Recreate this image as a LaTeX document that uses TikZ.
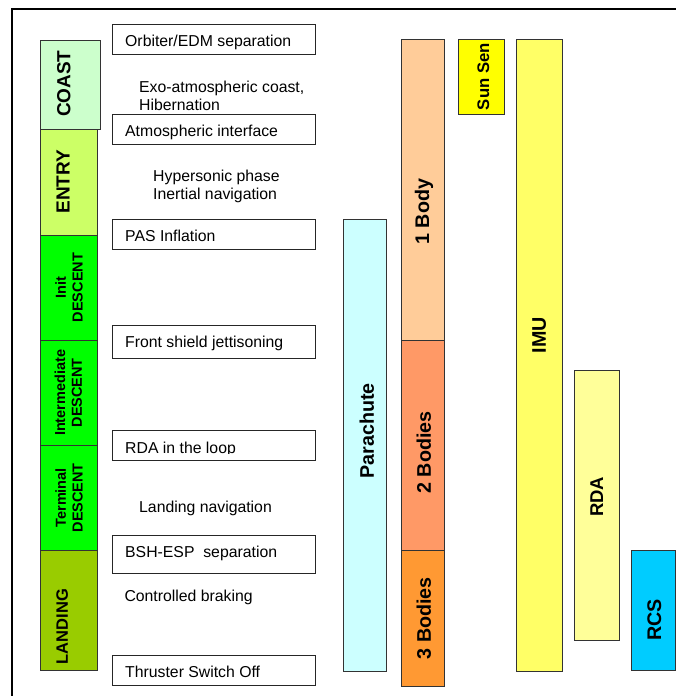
\documentclass[tikz,border=0pt]{standalone}
\usepackage{fontspec}
\setmainfont{Liberation Sans}
\definecolor{coastc}{HTML}{CCFFCC}
\definecolor{entryc}{HTML}{CCFF66}
\definecolor{descentc}{HTML}{00FF00}
\definecolor{landingc}{HTML}{99CC00}
\definecolor{parac}{HTML}{CCFFFF}
\definecolor{onebodyc}{HTML}{FFCC99}
\definecolor{twobodyc}{HTML}{FF9966}
\definecolor{threebodyc}{HTML}{FF9933}
\definecolor{sunsenc}{HTML}{FFFF00}
\definecolor{imuc}{HTML}{FFFF66}
\definecolor{rdac}{HTML}{FFFF99}
\definecolor{rcsc}{HTML}{00CCFF}
\definecolor{edge}{HTML}{333333}
\begin{document}
\begin{tikzpicture}[x=1pt,y=-1pt,
  rect/.style={draw=edge, line width=0.9pt, inner sep=0pt, outer sep=0pt, anchor=north west},
  evbox/.style={rect, draw=black!85, fill=white, minimum width=202.7pt},
  evtext/.style={anchor=base west, inner sep=0pt, font=\fontsize{15.8}{18}\selectfont},
  phtext/.style={rotate=90, inner sep=0pt, align=center, font=\bfseries\fontsize{19}{21}\selectfont},
  phsmall/.style={rotate=90, inner sep=0pt, align=center, font=\bfseries\fontsize{14.5}{16.7}\selectfont},
  bartext/.style={rotate=90, inner sep=0pt, font=\bfseries\fontsize{19.7}{22}\selectfont}
]
\useasboundingbox (0,0) rectangle (676,696);

% frame lines
\coordinate (fbl) at (11.7,696);
\coordinate (ftl) at (11.7,9);
\coordinate (ftr) at (676,9);
\draw[line width=1.8pt] (fbl) -- (ftl) -- (ftr);

% mission phases
\node[rect, fill=coastc, minimum width=59.7pt, minimum height=89pt] (coast) at (40.3,40) {};
\node[rect, fill=entryc, minimum width=57.4pt, minimum height=106pt] (entry) at (40.3,129) {};
\node[rect, fill=descentc, minimum width=57.4pt, minimum height=105pt] (initd) at (40.3,235) {};
\node[rect, fill=descentc, minimum width=57.4pt, minimum height=105pt] (interd) at (40.3,340) {};
\node[rect, fill=descentc, minimum width=57.4pt, minimum height=105.7pt] (termd) at (40.3,445) {};
\node[rect, fill=landingc, minimum width=57.4pt, minimum height=120pt] (landing) at (40.3,550.7) {};

\node[phtext] (coastl) at (63.8,83.7) {COAST};
\node[phtext] (entryl) at (63,181.7) {ENTRY};
\node[phsmall] (initdl) at (69,287.5) {Init\\DESCENT};
\node[phsmall] (interdl) at (68.3,392.8) {Intermediate\\DESCENT};
\node[phsmall] (termdl) at (69,497.8) {Terminal\\DESCENT};
\node[phtext, font=\bfseries\fontsize{16.5}{19}\selectfont] (landingl) at (62.2,626.7) {LANDING};

% events
\node[evbox, minimum height=29.7pt] (ev1) at (112.3,24.3) {};
\node[evtext] (ev1t) at (125,46.7) {Orbiter/EDM separation};
\node[evbox, minimum height=30pt] (ev2) at (112.3,114.3) {};
\node[evtext] (ev2t) at (125,136.7) {Atmospheric interface};
\node[evbox, minimum height=30pt] (ev3) at (112.3,219.3) {};
\node[evtext] (ev3t) at (125,241.7) {PAS Inflation};
\node[evbox, minimum height=33.3pt] (ev4) at (112.3,325) {};
\node[evtext] (ev4t) at (125,347.2) {Front shield jettisoning};
\node[evbox, minimum height=29.7pt] (ev5) at (112.3,430.3) {};
\begin{scope}
  \clip (112.3,430.3) rectangle (315,453.6);
  \node[evtext] (ev5t) at (125,453.3) {RDA in the loop};
\end{scope}
\node[evbox, minimum height=37.6pt] (ev6) at (112.3,535.7) {};
\node[evtext] (ev6t) at (125,557.3) {BSH-ESP\ \ separation};
\node[evbox, minimum height=30pt] (ev7) at (112.3,655.7) {};
\node[evtext] (ev7t) at (125,677.3) {Thruster Switch Off};

% phase notes
\node[evtext] (n1a) at (139,92.3) {Exo-atmospheric coast,};
\node[evtext] (n1b) at (139,110) {Hibernation};
\node[evtext] (n2a) at (153,181.7) {Hypersonic phase};
\node[evtext] (n2b) at (153,199.3) {Inertial navigation};
\node[evtext] (n3) at (139,512) {Landing navigation};
\node[evtext] (n4) at (124.3,601.7) {Controlled braking};

% equipment bars
\node[rect, fill=parac, minimum width=43.4pt, minimum height=451.3pt] (para) at (343.3,219.7) {};
\node[bartext] (paral) at (366.8,430.7) {Parachute};
\node[rect, fill=onebodyc, minimum width=43.3pt, minimum height=300.3pt] (body1) at (401,39.7) {};
\node[bartext] (body1l) at (424,211.7) {1 Body};
\node[rect, fill=twobodyc, minimum width=43.3pt, minimum height=210.7pt] (body2) at (401,340) {};
\node[bartext] (body2l) at (423.8,452.5) {2 Bodies};
\node[rect, fill=threebodyc, minimum width=43.3pt, minimum height=135.3pt] (body3) at (401,550.7) {};
\node[bartext] (body3l) at (423.8,618.3) {3 Bodies};
\node[rect, fill=sunsenc, minimum width=46pt, minimum height=75pt] (sun) at (458.3,39.7) {};
\node[bartext, font=\bfseries\fontsize{16.7}{19}\selectfont] (sunl) at (483.3,76.7) {Sun Sen};
\node[rect, fill=imuc, minimum width=46pt, minimum height=631.3pt] (imu) at (516.3,39.7) {};
\node[bartext] (imul) at (539.2,335) {IMU};
\node[rect, fill=rdac, minimum width=45.7pt, minimum height=270.7pt] (rda) at (574,370) {};
\node[bartext, font=\bfseries\fontsize{18.5}{21}\selectfont] (rdal) at (596.7,496.7) {RDA};
\node[rect, fill=rcsc, minimum width=44pt, minimum height=119.7pt] (rcs) at (631.7,550.3) {};
\node[bartext] (rcsl) at (654.3,619.7) {RCS};
\end{tikzpicture}
\end{document}
